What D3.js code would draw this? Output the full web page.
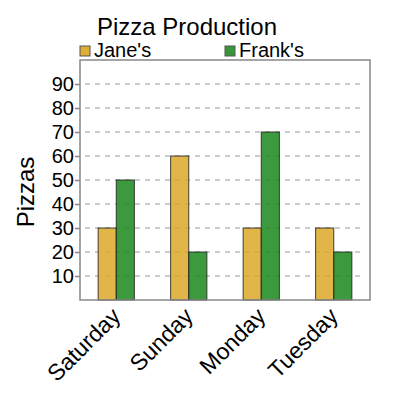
<!DOCTYPE html>
<html><head><meta charset="utf-8">
<script src="https://cdn.jsdelivr.net/npm/d3@7"></script>
<style>body{margin:0;background:#fff;} text{font-family:Arial,"Liberation Sans",sans-serif;}</style>
</head><body>
<svg id="c" width="400" height="400"></svg>
<script>
const categories = ["Saturday","Sunday","Monday","Tuesday"];
const seriesNames = ["Jane's","Frank's"];
const janes = [30,60,30,30];
const franks = [50,20,70,20];
const yTicks = [10,20,30,40,50,60,70,80,90];
const colors = ["#DAA520","#228B22"];

const svg = d3.select("#c");
const m = {l:80, r:30, t:60, b:100};
const W = 400, H = 400;
const x0 = d3.scaleBand().domain(categories).range([m.l, W-m.r]).paddingInner(0.5).paddingOuter(0.25);
const x1 = d3.scaleBand().domain(seriesNames).range([0, x0.bandwidth()]);
const y = d3.scaleLinear().domain([0,100]).range([H-m.b, m.t]);

// gridlines
svg.append("g").selectAll("line").data(yTicks).join("line")
  .attr("x1", m.l+5).attr("x2", W-m.r-10)
  .attr("y1", d=>y(d)).attr("y2", d=>y(d))
  .attr("stroke","#bbb").attr("stroke-width",1.5).attr("stroke-dasharray","5,5");

// bars
const data = categories.map((c,i)=>({cat:c, vals:[janes[i], franks[i]]}));
svg.append("g").selectAll("g").data(data).join("g")
  .attr("transform", d=>`translate(${x0(d.cat)},0)`)
  .selectAll("rect").data(d=>d.vals.map((v,j)=>({v, s:seriesNames[j], j})))
  .join("rect")
  .attr("x", d=>x1(d.s)).attr("width", x1.bandwidth())
  .attr("y", d=>y(d.v)).attr("height", d=>y(0)-y(d.v))
  .attr("fill", d=>colors[d.j]).attr("fill-opacity",d=>d.j?0.88:0.82)
  .attr("stroke","#222").attr("stroke-opacity",0.85).attr("stroke-width",1);

// border
svg.append("rect").attr("x", m.l).attr("y", m.t).attr("width", W-m.l-m.r).attr("height", H-m.t-m.b)
  .attr("fill","none").attr("stroke","#888").attr("stroke-width",1.5);

// y axis
const yAxis = svg.append("g").attr("transform",`translate(${m.l},0)`)
  .call(d3.axisLeft(y).tickValues(yTicks).tickSize(5).tickPadding(1));
yAxis.select(".domain").remove();
yAxis.selectAll(".tick line").attr("stroke","#888").attr("stroke-width",1.5);
yAxis.selectAll("text").attr("font-size",20).attr("fill","#000").attr("font-family","Arial, 'Liberation Sans', sans-serif");

// x axis labels
svg.append("g").selectAll("text").data(categories).join("text")
  .attr("transform", d=>`translate(${x0(d)+x0.bandwidth()/2},${H-m.b+12}) rotate(-45)`)
  .attr("text-anchor","end").attr("dy","0.35em")
  .attr("font-size",23).attr("fill","#000").text(d=>d);

// y label
svg.append("text").attr("transform","translate(34,192) rotate(-90)")
  .attr("text-anchor","middle").attr("font-size",24).text("Pizzas");

// title
svg.append("text").attr("x",187).attr("y",35).attr("text-anchor","middle")
  .attr("font-size",24).text("Pizza Production");

// legend
const lx = [80, 225];
const lg = svg.append("g").selectAll("g").data(seriesNames).join("g")
  .attr("transform",(d,i)=>`translate(${lx[i]},46)`);
lg.append("rect").attr("width",10).attr("height",10)
  .attr("fill",(d,i)=>colors[i]).attr("fill-opacity",0.9).attr("stroke","#555").attr("stroke-width",1);
lg.append("text").attr("x",14).attr("y",11).attr("font-size",20).text(d=>d);
</script>
</body></html>
